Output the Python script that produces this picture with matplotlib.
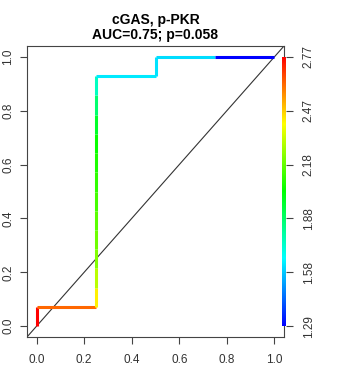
import numpy as np
import matplotlib
matplotlib.use('Agg')
import matplotlib.pyplot as plt
from matplotlib.collections import LineCollection
from matplotlib.colors import hsv_to_rgb

plt.rcParams['font.family'] = ['Liberation Sans', 'DejaVu Sans']

# ROC points (false positive rate, true positive rate) and the cutoff at each point
fpr = [0, 0, 0.25, 0.25, 0.25, 0.25, 0.25, 0.25, 0.25, 0.25, 0.25, 0.25, 0.25, 0.25, 0.25,
       0.5, 0.5, 0.75, 1.0]
tpr = [0, 1/14, 1/14, 2/14, 3/14, 4/14, 5/14, 6/14, 7/14, 8/14, 9/14, 10/14, 11/14, 12/14, 13/14,
       13/14, 1.0, 1.0, 1.0]
cutoff = [np.inf, 2.77, 2.62, 2.42, 2.30, 2.22, 2.19, 2.16, 2.13, 2.10, 2.07, 2.04, 1.97, 1.87, 1.75,
          1.63, 1.62, 1.61, 1.29]

key_ticks = [0, 0.2, 0.4, 0.6, 0.8, 1.0]
key_labels = ['1.29', '1.58', '1.88', '2.18', '2.47', '2.77']
title = 'cGAS, p-PKR\nAUC=0.75; p=0.058'

cmin, cmax = 1.29, 2.77


def rainbow(c):
    # R: rev(rainbow(256, start=0, end=4/6)) -> low cutoff blue, high cutoff red
    f = (c - cmin) / (cmax - cmin)
    f = min(max(f, 0), 1)
    return hsv_to_rgb([(1 - f) * 4 / 6, 1, 1])


fig = plt.figure(figsize=(3.39, 3.67), dpi=100)
ax = fig.add_axes([27/339, 30/367, 257/339, 291/367])
ax.set_xlim(-0.04, 1.04)
ax.set_ylim(-0.04, 1.04)

# diagonal reference
ax.plot([-0.04, 1.04], [-0.04, 1.04], color='#333333', lw=0.8)

segs = [[(fpr[i], tpr[i]), (fpr[i + 1], tpr[i + 1])] for i in range(len(fpr) - 1)]
cols = [rainbow(cutoff[i + 1]) for i in range(len(fpr) - 1)]
lc = LineCollection(segs, colors=cols, linewidths=2.2, capstyle='butt', joinstyle='miter')
ax.add_collection(lc)

ax.set_xticks([0, 0.2, 0.4, 0.6, 0.8, 1.0])
ax.set_yticks([0, 0.2, 0.4, 0.6, 0.8, 1.0])
ax.set_xticklabels(['0.0', '0.2', '0.4', '0.6', '0.8', '1.0'])
ax.set_yticklabels(['0.0', '0.2', '0.4', '0.6', '0.8', '1.0'], rotation=90, va='center')
ax.tick_params(direction='out', length=5, width=0.8, color='#444444',
               labelcolor='#333333', labelsize=8.5)
ax.tick_params(axis='x', pad=7)
ax.tick_params(axis='y', pad=4)
for s in ax.spines.values():
    s.set_color('#444444')
    s.set_linewidth(0.8)
ax.set_title(title, fontsize=10, fontweight='bold', pad=5, linespacing=1.1)

# color key on the right side
y0 = 30/367 + (0.04 / 1.08) * 291/367
h = (1 / 1.08) * 291/367
cax = fig.add_axes([282/339, y0, 4/339, h])
grad = np.linspace(0, 1, 256).reshape(-1, 1)
key_cols = np.array([rainbow(cmin + g * (cmax - cmin)) for g in grad[:, 0]]).reshape(-1, 1, 3)
cax.imshow(key_cols, aspect='auto', origin='lower', extent=[0, 1, 0, 1])
cax.set_xticks([])
for s in cax.spines.values():
    s.set_visible(False)
cax.yaxis.tick_right()
cax.set_yticks(key_ticks)
cax.set_yticklabels(key_labels, rotation=90, va='center')
cax.tick_params(axis='y', direction='out', length=5, width=0.8, color='#444444',
                labelcolor='#333333', labelsize=8.5, pad=7)

fig.savefig('out.png', dpi=100)
